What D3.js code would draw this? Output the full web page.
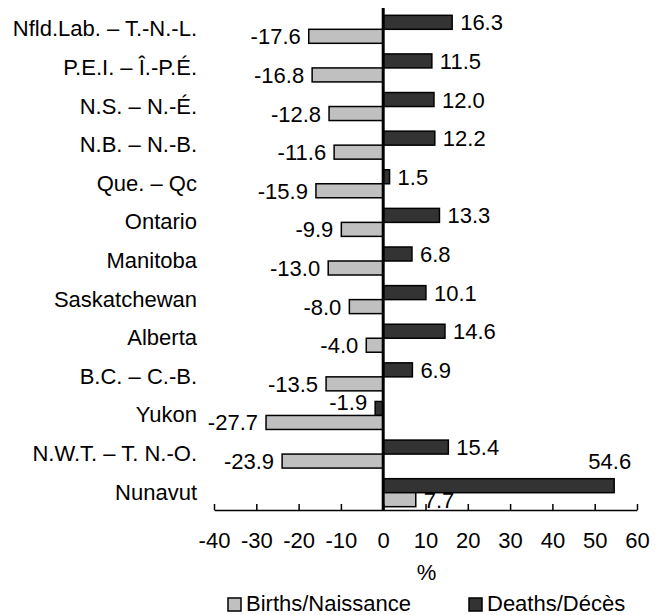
<!DOCTYPE html>
<html lang="en">
<head>
    <meta charset="UTF-8">
    <title>Births and deaths</title>
    <script src="https://d3js.org/d3.v7.min.js"></script>
    <style>
        body { margin: 0; background: #fff; }
        text { font-family: Arial, "Liberation Sans", sans-serif; font-size: 22px; fill: #000; }
    </style>
</head>
<body>
<script type="text/javascript">
    var provinces = ["Nfld.Lab. \u2013 T.-N.-L.", "P.E.I. \u2013 \u00CE.-P.\u00C9.", "N.S. \u2013 N.-\u00C9.", "N.B. \u2013 N.-B.",
        "Que. \u2013 Qc", "Ontario", "Manitoba", "Saskatchewan", "Alberta", "B.C. \u2013 C.-B.", "Yukon",
        "N.W.T. \u2013 T. N.-O.", "Nunavut"];
    var births = [-17.6, -16.8, -12.8, -11.6, -15.9, -9.9, -13.0, -8.0, -4.0, -13.5, -27.7, -23.9, 7.7];
    var deaths = [16.3, 11.5, 12.0, 12.2, 1.5, 13.3, 6.8, 10.1, 14.6, 6.9, -1.9, 15.4, 54.6];
    var xTicks = [-40, -30, -20, -10, 0, 10, 20, 30, 40, 50, 60];
    var seriesNames = ["Births/Naissance", "Deaths/D\u00E9c\u00E8s"];

    var svgWidth = 664, svgHeight = 615;
    var axisY = 510;

    var svg = d3.select("body").append("svg")
        .attr("width", svgWidth)
        .attr("height", svgHeight);

    var xScale = d3.scaleLinear().domain([-40, 60]).range([214, 637]);
    var yScale = d3.scaleBand().domain(provinces).range([10, 512])
        .paddingInner(0.275).paddingOuter(0.1375);
    var subScale = d3.scaleBand().domain(["deaths", "births"]).range([0, yScale.bandwidth()]);

    var rows = provinces.map(function (p, i) {
        return {name: p, deaths: deaths[i], births: births[i]};
    });

    var colors = {births: "#c0c0c0", deaths: "#333333"};

    var bars = [];
    rows.forEach(function (r) {
        bars.push({name: r.name, key: "deaths", v: r.deaths});
        bars.push({name: r.name, key: "births", v: r.births});
    });

    svg.selectAll("rect.bar")
        .data(bars)
        .enter()
        .append("rect")
        .attr("class", "bar")
        .attr("x", function (d) { return Math.min(xScale(0), xScale(d.v)); })
        .attr("y", function (d) { return yScale(d.name) + subScale(d.key); })
        .attr("width", function (d) { return Math.abs(xScale(d.v) - xScale(0)); })
        .attr("height", subScale.bandwidth())
        .style("fill", function (d) { return colors[d.key]; })
        .style("stroke", "#000")
        .style("stroke-width", 1.5);

    // value labels, outside the bar end (two odd ones moved like in the original)
    var isBig = function (d) { return d.name === "Nunavut" && d.key === "deaths"; };
    svg.selectAll("text.val")
        .data(bars)
        .enter()
        .append("text")
        .attr("class", "val")
        .text(function (d) { return d.v.toFixed(1); })
        .attr("x", function (d) {
            if (isBig(d)) return xScale(d.v) + 17;
            return d.v < 0 ? xScale(d.v) - 8 : xScale(d.v) + 8;
        })
        .attr("y", function (d) {
            var y = yScale(d.name) + subScale(d.key) + subScale.bandwidth() + 1;
            if (isBig(d)) y -= 25;
            if (d.key === "deaths" && d.v < 0) y -= 6;
            return y;
        })
        .attr("text-anchor", function (d) {
            if (isBig(d)) return "end";
            return d.v < 0 ? "end" : "start";
        });

    // category labels
    svg.selectAll("text.cat")
        .data(provinces)
        .enter()
        .append("text")
        .attr("class", "cat")
        .text(function (d) { return d; })
        .attr("x", 197)
        .attr("y", function (d) { return yScale(d) + yScale.bandwidth() / 2 + 7; })
        .attr("text-anchor", "end");

    // bottom axis
    var xAxis = d3.axisBottom(xScale)
        .tickValues(xTicks)
        .tickFormat(function (d) { return String(d); })
        .tickSizeInner(-6).tickSizeOuter(0).tickPadding(22);
    var gx = svg.append("g")
        .attr("transform", "translate(0," + axisY + ")")
        .call(xAxis);
    gx.attr("font-size", null).attr("font-family", null);
    gx.select(".domain").attr("stroke", "#000").attr("stroke-width", 1.5);
    gx.selectAll(".tick line").attr("stroke", "#000").attr("stroke-width", 1.5);
    gx.selectAll(".tick text").style("fill", "#000");

    // zero line
    svg.append("line")
        .attr("x1", xScale(0)).attr("x2", xScale(0))
        .attr("y1", 8).attr("y2", axisY)
        .attr("stroke", "#000")
        .attr("stroke-width", 3);

    svg.append("text")
        .text("%")
        .attr("x", xScale(10) + 1)
        .attr("y", 580)
        .attr("text-anchor", "middle");

    // legend
    var legendX = [228, 469];
    var legend = svg.selectAll("g.legend")
        .data(seriesNames)
        .enter()
        .append("g")
        .attr("class", "legend")
        .attr("transform", function (d, i) { return "translate(" + legendX[i] + ",598)"; });
    legend.append("rect")
        .attr("width", 13).attr("height", 13)
        .style("fill", function (d, i) { return i === 0 ? colors.births : colors.deaths; })
        .style("stroke", "#000")
        .style("stroke-width", 1.5);
    legend.append("text")
        .text(function (d) { return d; })
        .attr("x", 18)
        .attr("y", 13);
</script>
</body>
</html>
